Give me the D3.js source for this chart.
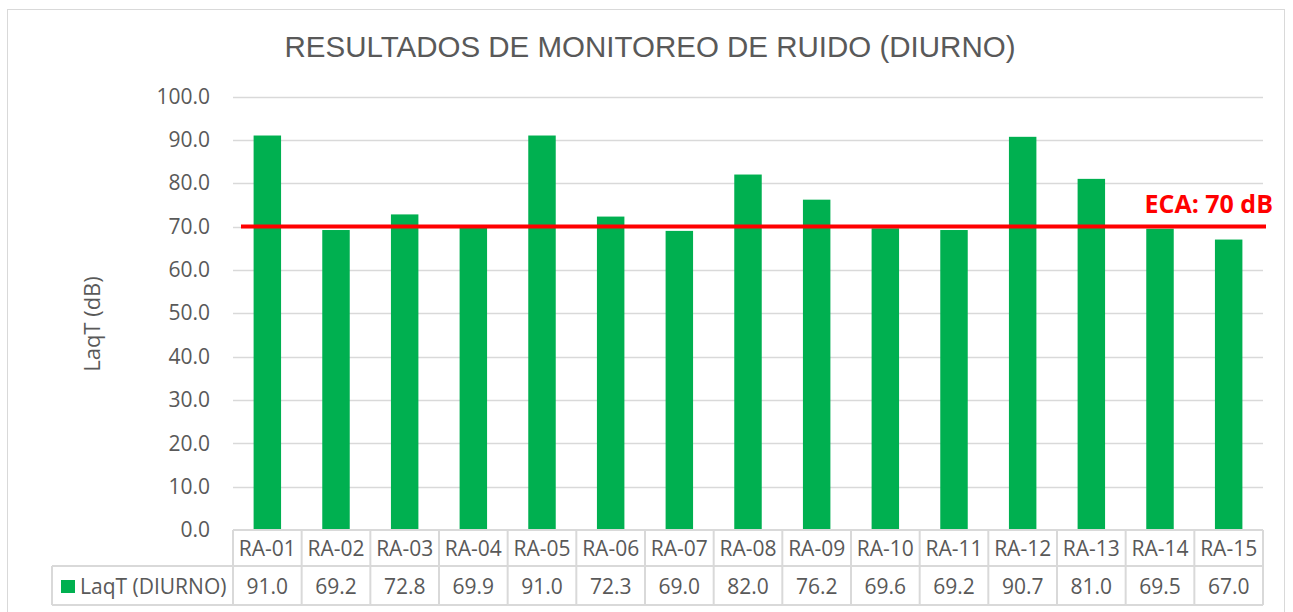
<!DOCTYPE html>
<html>
<head>
<meta charset="utf-8">
<script src="https://cdn.jsdelivr.net/npm/d3@7"></script>
<style>
  body { margin: 0; background: #fff; }
  svg text { font-family: "Open Sans", Calibri, sans-serif; fill: #595959; }
</style>
</head>
<body>
<svg id="chart" width="1293" height="612"></svg>
<script>
// data
var categories = ["RA-01","RA-02","RA-03","RA-04","RA-05","RA-06","RA-07","RA-08","RA-09","RA-10","RA-11","RA-12","RA-13","RA-14","RA-15"];
var laqtValues = [91.0, 69.2, 72.8, 69.9, 91.0, 72.3, 69.0, 82.0, 76.2, 69.6, 69.2, 90.7, 81.0, 69.5, 67.0];
var yTicks = [0, 10, 20, 30, 40, 50, 60, 70, 80, 90, 100];
var ecaLimit = 70;
var seriesName = "LaqT (DIURNO)";

var svg = d3.select("#chart");
var plotLeft = 233, plotRight = 1263, plotTop = 96.5, plotBottom = 530;
var rowH1 = 36, rowH2 = 39;
var fs = 21;

// chart border
svg.append("rect")
   .attr("x", 7.5).attr("y", 9.5)
   .attr("width", 1277).attr("height", 612)
   .attr("fill", "none").attr("stroke", "#d9d9d9").attr("stroke-width", 1);

var x = d3.scaleBand().domain(categories).range([plotLeft, plotRight]).paddingInner(0.6).paddingOuter(0.3);
var xCell = d3.scaleBand().domain(categories).range([plotLeft, plotRight]);
var y = d3.scaleLinear().domain([0, 100]).range([plotBottom, plotTop]);

// gridlines
svg.append("g").selectAll("line")
   .data(yTicks.filter(function(d){ return d > 0; }))
   .enter().append("line")
   .attr("x1", plotLeft).attr("x2", plotRight)
   .attr("y1", function(d){ return Math.round(y(d)) + 0.5; })
   .attr("y2", function(d){ return Math.round(y(d)) + 0.5; })
   .attr("stroke", "#d9d9d9").attr("stroke-width", 1.5);

// y axis labels
var yAxis = d3.axisLeft(y).tickValues(yTicks).tickFormat(d3.format(".1f")).tickSize(0).tickPadding(23);
var gy = svg.append("g").attr("transform", "translate(" + plotLeft + ",0)").call(yAxis);
gy.select(".domain").remove();
gy.selectAll("text").attr("font-size", fs).attr("fill", "#595959")
  .style("font-family", "'Open Sans', Calibri, sans-serif");

// bars
svg.append("g").selectAll("rect")
   .data(laqtValues)
   .enter().append("rect")
   .attr("x", function(d, i){ return x(categories[i]); })
   .attr("width", x.bandwidth())
   .attr("y", function(d){ return y(d); })
   .attr("height", function(d){ return plotBottom - y(d); })
   .attr("fill", "#00b050");

// ECA line
svg.append("line")
   .attr("x1", plotLeft + 8).attr("x2", 1266)
   .attr("y1", y(ecaLimit)).attr("y2", y(ecaLimit))
   .attr("stroke", "#ff0000").attr("stroke-width", 4);

svg.append("text")
   .attr("x", 1273).attr("y", 213)
   .attr("text-anchor", "end")
   .attr("font-size", 25).attr("font-weight", "bold")
   .style("fill", "#ff0000")
   .text("ECA: " + ecaLimit + " dB");

// data table
var grid = svg.append("g").attr("stroke", "#d9d9d9").attr("stroke-width", 2).attr("fill", "none");
grid.append("line").attr("x1", plotLeft).attr("x2", plotRight).attr("y1", plotBottom).attr("y2", plotBottom);
grid.append("line").attr("x1", 52).attr("x2", plotRight).attr("y1", plotBottom + rowH1).attr("y2", plotBottom + rowH1);
grid.append("line").attr("x1", 52).attr("x2", plotRight).attr("y1", plotBottom + rowH1 + rowH2).attr("y2", plotBottom + rowH1 + rowH2);
grid.append("line").attr("x1", 52).attr("x2", 52).attr("y1", plotBottom + rowH1).attr("y2", plotBottom + rowH1 + rowH2);
grid.selectAll(".v").data(categories.concat(["end"])).enter().append("line")
    .attr("x1", function(d, i){ return plotLeft + i * xCell.step(); })
    .attr("x2", function(d, i){ return plotLeft + i * xCell.step(); })
    .attr("y1", plotBottom).attr("y2", plotBottom + rowH1 + rowH2);

svg.append("g").selectAll("text")
   .data(categories).enter().append("text")
   .attr("x", function(d){ return xCell(d) + xCell.bandwidth() / 2; })
   .attr("y", plotBottom + 26)
   .attr("text-anchor", "middle").attr("font-size", fs)
   .text(function(d){ return d; });

svg.append("g").selectAll("text")
   .data(laqtValues).enter().append("text")
   .attr("x", function(d, i){ return xCell(categories[i]) + xCell.bandwidth() / 2; })
   .attr("y", plotBottom + rowH1 + 28)
   .attr("text-anchor", "middle").attr("font-size", fs)
   .text(function(d){ return d3.format(".1f")(d); });

// legend key in table
svg.append("rect").attr("x", 61).attr("y", 580).attr("width", 14).attr("height", 13).attr("fill", "#00b050");
svg.append("text").attr("x", 80).attr("y", plotBottom + rowH1 + 28).attr("font-size", fs).text(seriesName);

// title
svg.append("text")
   .attr("x", 650).attr("y", 57)
   .attr("text-anchor", "middle")
   .attr("font-size", 29.5)
   .style("font-family", "Arial, 'Liberation Sans', sans-serif")
   .text("RESULTADOS DE MONITOREO DE RUIDO (DIURNO)");

// axis title
svg.append("text")
   .attr("transform", "translate(100,324) rotate(-90)")
   .attr("text-anchor", "middle")
   .attr("font-size", 22)
   .text("LaqT (dB)");
</script>
</body>
</html>
